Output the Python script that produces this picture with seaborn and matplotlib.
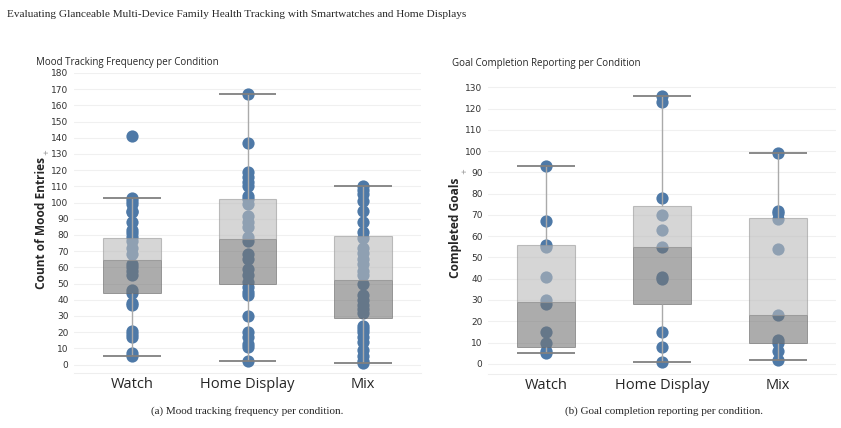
import matplotlib.pyplot as plt
import numpy as np
import pandas as pd
import seaborn as sns

CONDITIONS = ["Watch", "Home Display", "Mix"]

# mood entries per participant
MOOD_WATCH = [141, 103, 101, 99, 95, 94, 88, 83, 81, 79, 76, 72, 68, 62, 60,
              58, 55, 46, 44, 38, 37, 21, 19, 17, 7, 5]
MOOD_HOME = [167, 137, 119, 116, 113, 110, 104, 102, 99, 92, 88, 85, 79, 76,
             68, 65, 59, 55, 51, 48, 45, 43, 30, 20, 17, 13, 11, 2]
MOOD_MIX = [110, 108, 105, 101, 95, 88, 82, 78, 72, 69, 65, 62, 58, 55, 50,
            43, 40, 37, 34, 32, 24, 22, 20, 17, 14, 9, 5, 2, 1]
MOOD_Q1 = [44, 49.6, 28.8]
MOOD_MED = [64.4, 77.3, 52]
MOOD_Q3 = [78, 102, 79.6]
MOOD_LOW = [5, 2, 1]
MOOD_HIGH = [103, 167, 110]

# completed goals per participant
GOAL_WATCH = [93, 67, 56, 55, 41, 30, 28, 15, 10, 6, 5]
GOAL_HOME = [126, 123, 78, 70, 63, 55, 41, 40, 15, 8, 1]
GOAL_MIX = [99, 72, 71, 68, 54, 23, 11, 10, 6, 2]
GOAL_Q1 = [8, 28, 10]
GOAL_MED = [29, 55, 23]
GOAL_Q3 = [55.7, 74.4, 68.5]
GOAL_LOW = [5, 1, 2]
GOAL_HIGH = [93, 126, 99]

POINT = "#4e79a7"
SANS = ["Open Sans", "DejaVu Sans"]
SERIF = ["Liberation Serif", "DejaVu Serif"]


def to_frame(groups):
    rows = []
    for cond, vals in zip(CONDITIONS, groups):
        rows += [(cond, v) for v in vals]
    return pd.DataFrame(rows, columns=["Condition", "Value"])


def draw_panel(ax, df, q1, med, q3, lo, hi, ylabel, ymax, ylim):
    sns.stripplot(data=df, x="Condition", y="Value", order=CONDITIONS,
                  jitter=False, size=8.8, color=POINT, linewidth=0,
                  ax=ax, zorder=2)
    pos = np.arange(len(CONDITIONS))
    ax.bar(pos, np.subtract(med, q1), bottom=q1, width=0.5, color="#767676",
           alpha=0.6, edgecolor="#6a6a6a", linewidth=0.7, zorder=3)
    ax.bar(pos, np.subtract(q3, med), bottom=med, width=0.5, color="#bbbbbb",
           alpha=0.6, edgecolor="#999999", linewidth=0.8, zorder=3)
    ax.vlines(pos, lo, q1, color="#aaaaaa", lw=1, zorder=4)
    ax.vlines(pos, q3, hi, color="#aaaaaa", lw=1, zorder=4)
    ax.hlines(lo, pos - 0.25, pos + 0.25, color="#808080", lw=1.3, zorder=4)
    ax.hlines(hi, pos - 0.25, pos + 0.25, color="#808080", lw=1.3, zorder=4)

    ax.set_xlim(-0.5, 2.5)
    ax.set_ylim(*ylim)
    ax.set_yticks(np.arange(0, ymax + 1, 10))
    ax.grid(axis="y", color="#f0f0f0", lw=0.8)
    ax.set_axisbelow(True)
    for s in ["top", "right", "left"]:
        ax.spines[s].set_visible(False)
    ax.spines["bottom"].set_color("#eeeeee")
    ax.tick_params(length=0)
    ax.tick_params(axis="y", labelsize=6.5, labelcolor="#333333", pad=4)
    ax.tick_params(axis="x", labelsize=10.5, pad=3)
    for lab in ax.get_xticklabels():
        lab.set_family(SANS)
    ax.set_xlabel("")
    ax.set_ylabel(ylabel, fontsize=8.6, fontweight="bold", family=SANS,
                  labelpad=2)


sns.set_style("white")
plt.rcParams["font.family"] = ["DejaVu Sans"]

fig = plt.figure(figsize=(8.41, 4.28), dpi=100)
ax1 = fig.add_axes([0.088, 0.1285, 0.4126, 0.701])
ax2 = fig.add_axes([0.5803, 0.126, 0.4138, 0.6846])

draw_panel(ax1, to_frame([MOOD_WATCH, MOOD_HOME, MOOD_MIX]),
           MOOD_Q1, MOOD_MED, MOOD_Q3, MOOD_LOW, MOOD_HIGH,
           "Count of Mood Entries", 180, (-5.2, 180))
draw_panel(ax2, to_frame([GOAL_WATCH, GOAL_HOME, GOAL_MIX]),
           GOAL_Q1, GOAL_MED, GOAL_Q3, GOAL_LOW, GOAL_HIGH,
           "Completed Goals", 130, (-4.85, 133))

# small sort marker after the y labels
fig.text(0.0555, 0.645, "+", fontsize=5, color="#888888", rotation=90,
         ha="center", va="center")
fig.text(0.5525, 0.6, "+", fontsize=5, color="#888888", rotation=90,
         ha="center", va="center")

fig.text(0.043, 0.853, "Mood Tracking Frequency per Condition",
         fontsize=7, family=SANS, ha="left", va="center")
fig.text(0.537, 0.851, "Goal Completion Reporting per Condition",
         fontsize=7, family=SANS, ha="left", va="center")

fig.text(0.008, 0.967, "Evaluating Glanceable Multi-Device Family Health "
         "Tracking with Smartwatches and Home Displays",
         fontsize=8.1, family=SERIF, va="center", ha="left")
fig.text(0.294, 0.04, "(a) Mood tracking frequency per condition.",
         fontsize=8, family=SERIF, ha="center", va="center")
fig.text(0.789, 0.04, "(b) Goal completion reporting per condition.",
         fontsize=8, family=SERIF, ha="center", va="center")

fig.savefig("out.png", dpi=100)
